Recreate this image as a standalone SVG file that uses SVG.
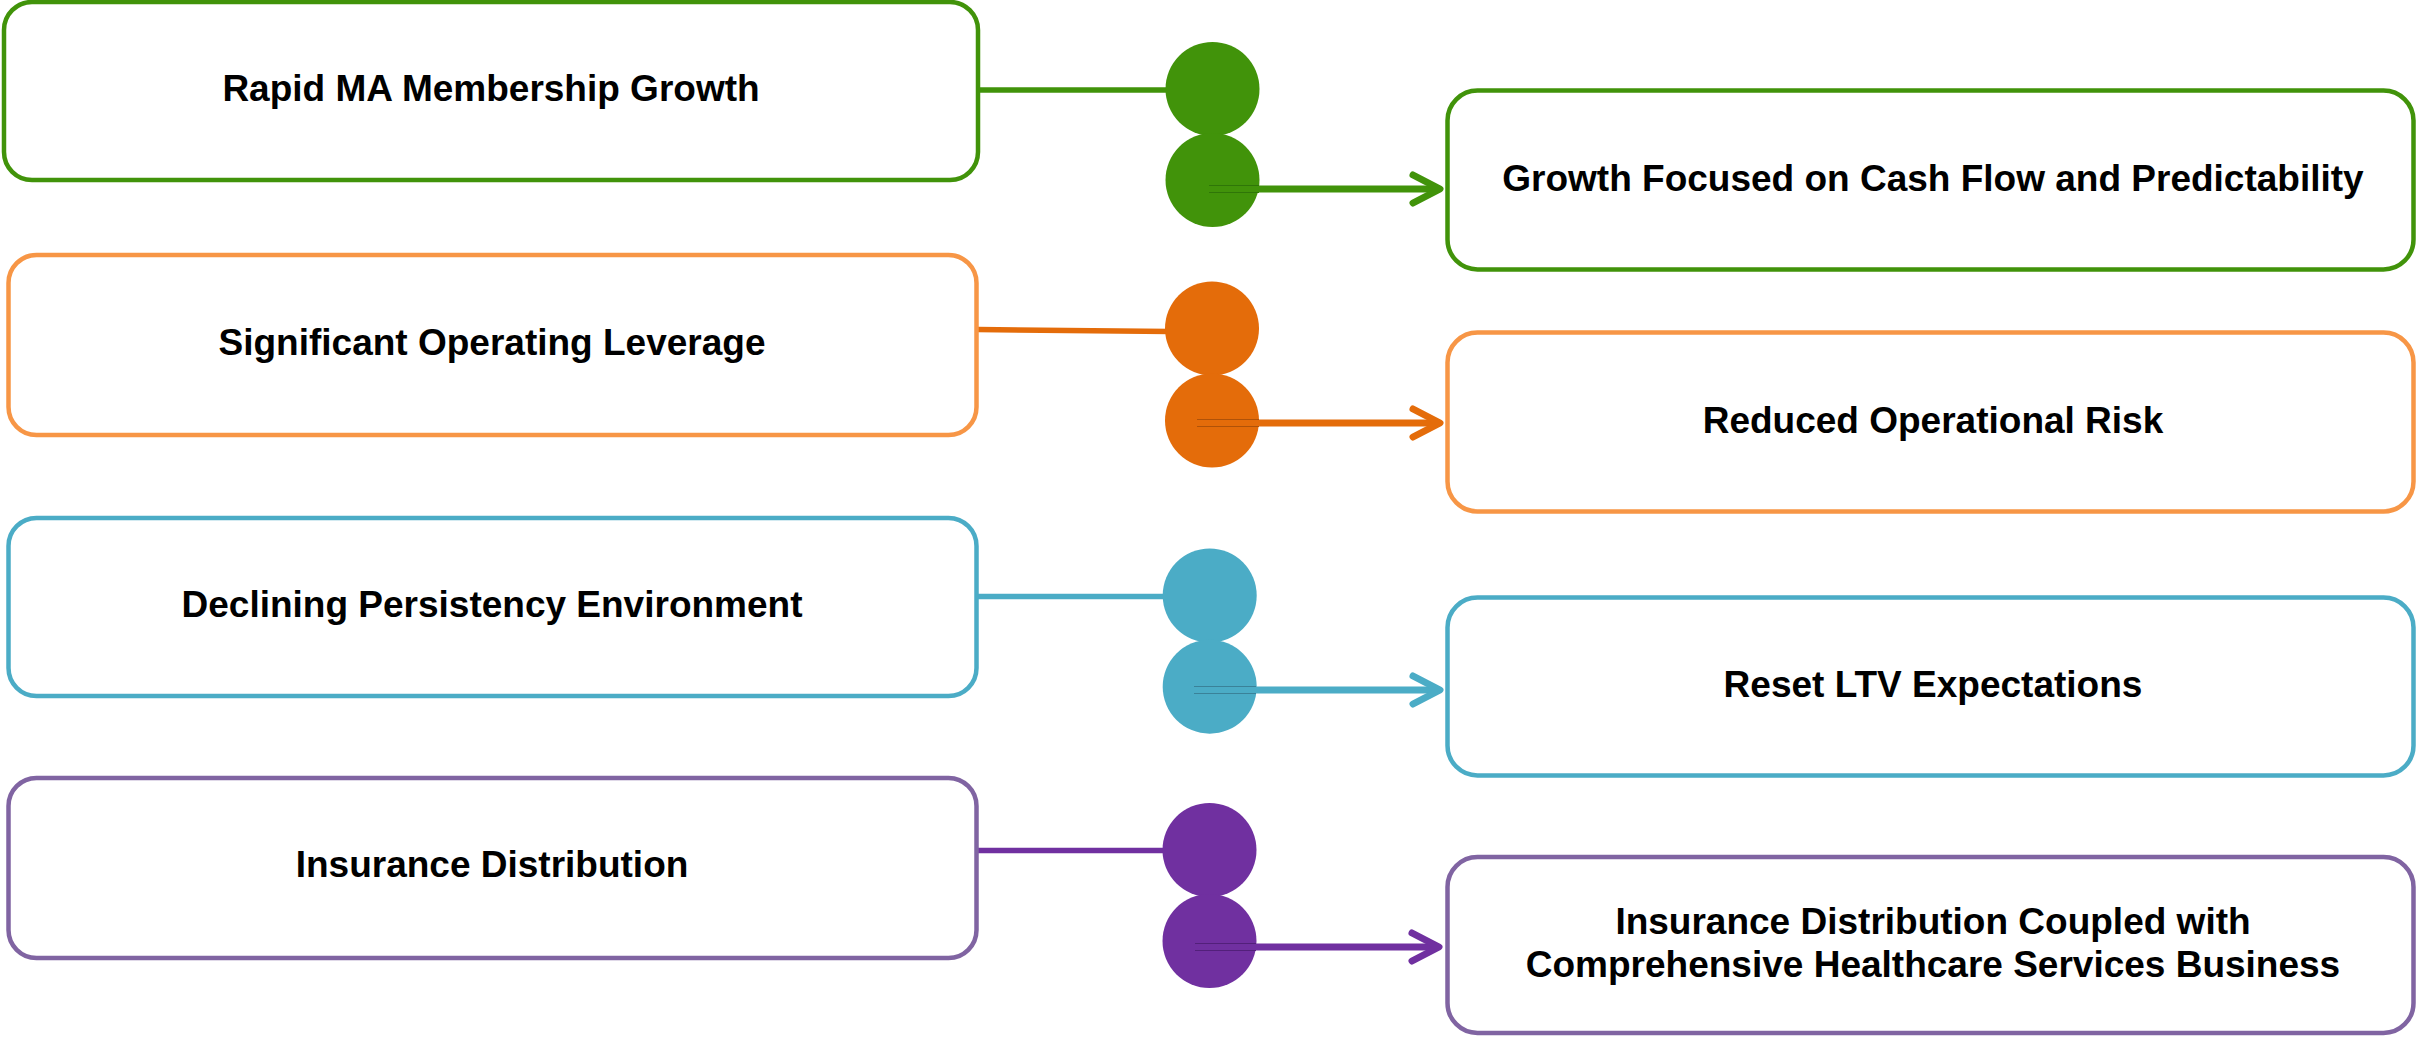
<svg xmlns="http://www.w3.org/2000/svg" width="2418" height="1038" viewBox="0 0 2418 1038">
  <style>
    .box { fill: #ffffff; stroke-width: 4.5; }
    .lbl { font-family: "Liberation Sans", Arial, sans-serif; font-weight: bold; font-size: 37px; fill: #000000; text-anchor: middle; }
    .feed { fill: none; stroke-width: 5.5; }
    .arrow { fill: none; stroke-width: 7; }
    .edge { fill: none; stroke-width: 1.2; }
    .green { stroke: #41930a; }
    .orange-b { stroke: #f79646; }
    .orange { stroke: #e46c0a; }
    .cyan { stroke: #4bacc6; }
    .purple-b { stroke: #8064a2; }
    .purple { stroke: #7030a0; }
  </style>
  <defs>
    <marker id="head-green" markerUnits="userSpaceOnUse" viewBox="-36 -20 42 40" refX="0" refY="0" markerWidth="42" markerHeight="40" orient="auto">
      <path d="M-27,-14 L0,0 L-27,14" fill="none" stroke="#41930a" stroke-width="7" stroke-linecap="round" stroke-linejoin="round"/>
    </marker>
    <marker id="head-orange" markerUnits="userSpaceOnUse" viewBox="-36 -20 42 40" refX="0" refY="0" markerWidth="42" markerHeight="40" orient="auto">
      <path d="M-27,-14 L0,0 L-27,14" fill="none" stroke="#e46c0a" stroke-width="7" stroke-linecap="round" stroke-linejoin="round"/>
    </marker>
    <marker id="head-cyan" markerUnits="userSpaceOnUse" viewBox="-36 -20 42 40" refX="0" refY="0" markerWidth="42" markerHeight="40" orient="auto">
      <path d="M-27,-14 L0,0 L-27,14" fill="none" stroke="#4bacc6" stroke-width="7" stroke-linecap="round" stroke-linejoin="round"/>
    </marker>
    <marker id="head-purple" markerUnits="userSpaceOnUse" viewBox="-36 -20 42 40" refX="0" refY="0" markerWidth="42" markerHeight="40" orient="auto">
      <path d="M-27,-14 L0,0 L-27,14" fill="none" stroke="#7030a0" stroke-width="7" stroke-linecap="round" stroke-linejoin="round"/>
    </marker>
  </defs>

  <rect width="2418" height="1038" fill="#ffffff"/>

  <!-- feeder lines from the left boxes into the upper dots -->
  <g id="connectors">
    <line class="feed green" x1="978" y1="90" x2="1170" y2="90"/>
    <line class="feed orange" x1="978" y1="329.5" x2="1170" y2="331.5"/>
    <line class="feed cyan" x1="978" y1="596.5" x2="1168" y2="596.5"/>
    <line class="feed purple" x1="978" y1="850.5" x2="1167" y2="850.5"/>
  </g>

  <!-- paired dots -->
  <g id="dots-green" fill="#41930a">
    <circle cx="1212.5" cy="89" r="47"/>
    <circle cx="1212.5" cy="180" r="47"/>
  </g>
  <g id="dots-orange" fill="#e46c0a">
    <circle cx="1212" cy="328.5" r="47"/>
    <circle cx="1212" cy="420.5" r="47"/>
  </g>
  <g id="dots-cyan" fill="#4bacc6">
    <circle cx="1209.7" cy="595.5" r="47"/>
    <circle cx="1209.7" cy="686.7" r="47"/>
  </g>
  <g id="dots-purple" fill="#7030a0">
    <circle cx="1209.5" cy="850" r="47"/>
    <circle cx="1209.5" cy="941" r="47"/>
  </g>

  <!-- arrows from the lower dots to the right boxes -->
  <g id="arrows">
    <line class="arrow green" x1="1209" y1="189" x2="1440" y2="189" marker-end="url(#head-green)"/>
    <line class="edge" stroke="#2f7608" x1="1209" y1="185.5" x2="1259" y2="185.5"/>
    <line class="edge" stroke="#2f7608" x1="1209" y1="192.5" x2="1259" y2="192.5"/>

    <line class="arrow orange" x1="1197" y1="423" x2="1440" y2="423" marker-end="url(#head-orange)"/>
    <line class="edge" stroke="#b05208" x1="1197" y1="419.5" x2="1259" y2="419.5"/>
    <line class="edge" stroke="#b05208" x1="1197" y1="426.5" x2="1259" y2="426.5"/>

    <line class="arrow cyan" x1="1194" y1="690" x2="1440" y2="690" marker-end="url(#head-cyan)"/>
    <line class="edge" stroke="#3a8299" x1="1194" y1="686.5" x2="1256" y2="686.5"/>
    <line class="edge" stroke="#3a8299" x1="1194" y1="693.5" x2="1256" y2="693.5"/>

    <line class="arrow purple" x1="1195" y1="947" x2="1439" y2="947" marker-end="url(#head-purple)"/>
    <line class="edge" stroke="#52207a" x1="1195" y1="943.5" x2="1256" y2="943.5"/>
    <line class="edge" stroke="#52207a" x1="1195" y1="950.5" x2="1256" y2="950.5"/>
  </g>

  <!-- left column -->
  <g id="rapid-ma-membership-growth">
    <rect class="box green" x="4" y="2" width="974" height="178" rx="28"/>
    <text class="lbl" x="491" y="101">Rapid MA Membership Growth</text>
  </g>
  <g id="significant-operating-leverage">
    <rect class="box orange-b" x="8.5" y="255" width="968" height="180" rx="28"/>
    <text class="lbl" x="492" y="355">Significant Operating Leverage</text>
  </g>
  <g id="declining-persistency-environment">
    <rect class="box cyan" x="8.5" y="518" width="968" height="178" rx="28"/>
    <text class="lbl" x="492" y="617">Declining Persistency Environment</text>
  </g>
  <g id="insurance-distribution">
    <rect class="box purple-b" x="8.5" y="778" width="968" height="180" rx="28"/>
    <text class="lbl" x="492" y="877">Insurance Distribution</text>
  </g>

  <!-- right column -->
  <g id="growth-cash-flow">
    <rect class="box green" x="1447.5" y="90.5" width="966" height="179" rx="30"/>
    <text class="lbl" x="1933" y="191">Growth Focused on Cash Flow and Predictability</text>
  </g>
  <g id="reduced-operational-risk">
    <rect class="box orange-b" x="1447.5" y="332.5" width="966" height="179" rx="30"/>
    <text class="lbl" x="1933" y="433">Reduced Operational Risk</text>
  </g>
  <g id="reset-ltv-expectations">
    <rect class="box cyan" x="1447.5" y="597.5" width="966" height="178" rx="30"/>
    <text class="lbl" x="1933" y="697">Reset LTV Expectations</text>
  </g>
  <g id="insurance-healthcare-services">
    <rect class="box purple-b" x="1447.5" y="857" width="966" height="176" rx="30"/>
    <text class="lbl" x="1933" y="934">Insurance Distribution Coupled with</text>
    <text class="lbl" x="1933" y="977">Comprehensive Healthcare Services Business</text>
  </g>
</svg>
